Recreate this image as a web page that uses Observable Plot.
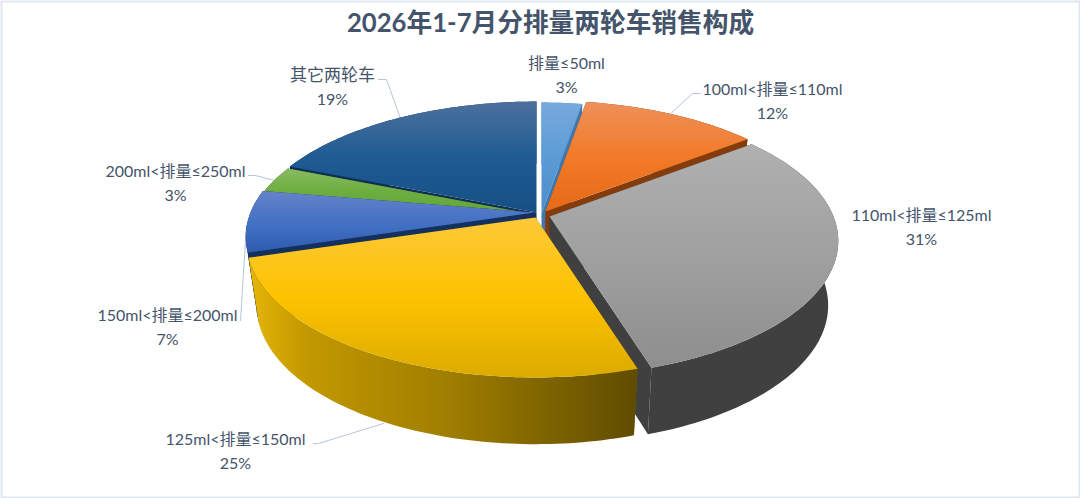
<!DOCTYPE html>
<html><head><meta charset="utf-8">
<style>html,body{margin:0;padding:0;background:#fff;overflow:hidden}svg{display:block}</style>
<script src="https://cdn.jsdelivr.net/npm/d3@7"></script>
<script src="https://cdn.jsdelivr.net/npm/@observablehq/plot@0.6"></script>
</head><body><script>
const title = "2026年1-7月分排量两轮车销售构成";
const categories = ["排量≤50ml","100ml<排量≤110ml","110ml<排量≤125ml","125ml<排量≤150ml","150ml<排量≤200ml","200ml<排量≤250ml","其它两轮车"];
const shares = [2.7,11.8,30.7,25.1,7.4,3.4,18.9];

// layout of the exploded 3D pie
const apexX = [541,545,549,535,534,534,536];
const apexY = [213,211,216,217,212,214,212];
const labelX = [566,772,921,235,167,175,332];
const labelY = [63,89,215,439,315,171,75];
const leaders = [
  [],
  [[700,93],[692,93],[668,115]],
  [],
  [[313,443],[318,443],[383,423]],
  [[240,320],[246,225]],
  [[248,175],[255,175],[274,180]],
  [[378,79],[386,79],[400,118]]
];
const topStops = [
  ["#78a9dd","#5b9bd5","#4a8dcb"],
  ["#ee9059","#f27a28","#e66a18"],
  ["#b0b0b0","#a0a0a0","#8e8e8e"],
  ["#fdc83a","#fdc300","#dcab00"],
  ["#6682ca","#4472c4","#2e5bae"],
  ["#88bb62","#6dae40","#64a438"],
  ["#4d709d","#1e5c93","#164f84"]
];
const sideColors = ["#3f78ad","#843c0c","#404040","url(#wallYellow)","#14305f","#3d6b24","#0f2f55"];
const paintOrder = [0,1,6,5,4,2,3];

const k = 0.181, a = 284, b = 131, shrink = 0.965, shrinkY = 1.017, depth = 64;
const total = d3.sum(shares);
const cum = d3.cumsum(shares);
const project = th => {
  const u = Math.sin(th), v = Math.cos(th);
  return [a*u/(1+k*v), b*v/(1+k*v)];
};
const topPt = (i,p) => ({x: apexX[i]+p[0], y: apexY[i]-p[1]});
const botPt = (i,p) => ({x: apexX[i]+p[0]*shrink, y: apexY[i]+depth-p[1]*shrinkY});
const rim = i => {
  const t0 = (i?cum[i-1]:0)/total*2*Math.PI, t1 = cum[i]/total*2*Math.PI;
  const n = Math.max(8,Math.ceil((t1-t0)/0.02));
  return d3.range(n+1).map(j=>project(t0+(t1-t0)*j/n));
};

const poly = (pts,fill)=>Plot.line(pts,{x:"x",y:"y",fill,stroke:"none"});
const defs = () => {
  const d = d3.create("svg:defs");
  topStops.forEach((s,i)=>{
    const g = d.append("linearGradient").attr("id","top"+i).attr("x1",0).attr("y1",0).attr("x2",0).attr("y2",1);
    s.forEach((c,j)=>g.append("stop").attr("offset",[0,0.5,1][j]).attr("stop-color",c));
  });
  const w = d.append("linearGradient").attr("id","wallYellow").attr("x1",0).attr("y1",0).attr("x2",1).attr("y2",0);
  [[0,"#e6b508"],[0.15,"#c29800"],[0.5,"#a17f00"],[1,"#5f4c00"]].forEach(([o,c])=>w.append("stop").attr("offset",o).attr("stop-color",c));
  return d.node();
};

const marks = [defs];
leaders.forEach(l=>{ if(l.length) marks.push(Plot.line(l.map(([x,y])=>({x,y})),{x:"x",y:"y",stroke:"#b8c4d8",strokeWidth:1})); });
for(const i of paintOrder){
  const r = rim(i);
  const A = {x:apexX[i],y:apexY[i]}, A2 = {x:apexX[i],y:apexY[i]+depth};
  const first = r[0], last = r[r.length-1];
  marks.push(poly([A,A2,botPt(i,first),topPt(i,first)],sideColors[i].startsWith("url")?"#806600":sideColors[i]));
  marks.push(poly([A,A2,botPt(i,last),topPt(i,last)],sideColors[i].startsWith("url")?"#5f4c00":sideColors[i]));
  marks.push(poly([...r.map(p=>topPt(i,p)),...r.slice().reverse().map(p=>botPt(i,p))],sideColors[i]));
  marks.push(poly([A,...r.map(p=>topPt(i,p))],`url(#top${i})`));
}
const font = "Lato,'Noto Sans CJK SC',sans-serif";
const labels = categories.flatMap((c,i)=>[
  {x:labelX[i],y:labelY[i],t:c,s:/ml/.test(c)?16:17},
  {x:labelX[i],y:labelY[i]+24,t:Math.round(shares[i])+"%",s:16}
]);
marks.push(Plot.text(labels,{x:"x",y:"y",text:"t",fontFamily:font,fontSize:"s",fill:"#44546a",textAnchor:"middle",lineAnchor:"middle"}));
marks.push(Plot.text([title],{x:()=>550,y:()=>23,text:d=>d,fontFamily:font,fontSize:25.7,fontWeight:700,fill:"#44546a",textAnchor:"middle",lineAnchor:"middle"}));
marks.push(Plot.frame({inset:1,stroke:"#dfe6f0",strokeWidth:2}));

document.body.append(Plot.plot({
  width:1080,height:498,margin:0,
  x:{domain:[0,1080],range:[0,1080],axis:null},
  y:{domain:[0,498],range:[0,498],axis:null},
  style:{background:"#fff"},
  marks
}));
</script></body></html>
